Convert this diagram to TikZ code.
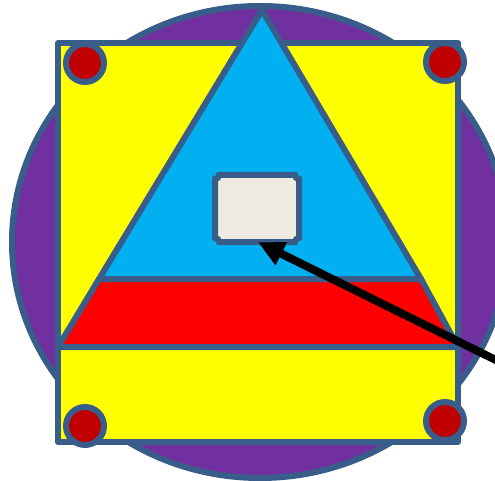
\documentclass[tikz,border=0pt]{standalone}
\usetikzlibrary{arrows.meta}

\definecolor{edgeblue}{RGB}{56,93,138}
\definecolor{discpurple}{RGB}{112,48,160}
\definecolor{boxyellow}{RGB}{255,255,0}
\definecolor{trisky}{RGB}{0,176,240}
\definecolor{bandred}{RGB}{255,0,0}
\definecolor{knobred}{RGB}{192,0,0}
\definecolor{plaquefill}{RGB}{238,236,225}

\tikzset{
  outlined/.style={draw=edgeblue, line width=6pt, line join=round},
  knob/.style={outlined, fill=knobred},
}

\begin{document}
\begin{tikzpicture}[x=1pt, y=-1pt, >=latex]
  \useasboundingbox (0,0) rectangle (495,481);
  \clip (0,0) rectangle (495,481);
  % --- Back: purple disc and yellow square ---
  \draw[outlined, fill=discpurple] (260,242) ellipse [x radius=248pt, y radius=236pt];
  \draw[outlined, fill=boxyellow] (58,43) rectangle (458,442);
  % --- Triangle: blue top, red band below ---
  \draw[outlined, fill=bandred] (99,279) -- (421,279) -- (458,347) -- (58,347) -- cycle;
  \draw[outlined, fill=trisky] (262,10) -- (421,279) -- (99,279) -- cycle;
  % --- Corner knobs ---
  \foreach \cx/\cy in {85/63, 445/62, 85/426, 445/421}
    \draw[knob] (\cx,\cy) circle (19pt);
  % --- Plaque in the middle ---
  \node[minimum width=84pt, minimum height=67pt, inner sep=0pt] (plaque) at (257,208.5) {};
  \draw[outlined, line join=miter, fill=plaquefill]
    (219,175) -- (295,175) arc[start angle=180, end angle=270, radius=4pt]
    -- (299,238) arc[start angle=90, end angle=180, radius=4pt]
    -- (219,242) arc[start angle=0, end angle=90, radius=4pt]
    -- (215,179) arc[start angle=270, end angle=360, radius=4pt] -- cycle;
  % --- Pointer from the right ---
  \coordinate (pointerstart) at (520,372);
  \draw[line width=8pt, -{Triangle[length=26pt, width=24pt]}] (pointerstart) -- ([xshift=1pt]plaque.south);
\end{tikzpicture}
\end{document}
